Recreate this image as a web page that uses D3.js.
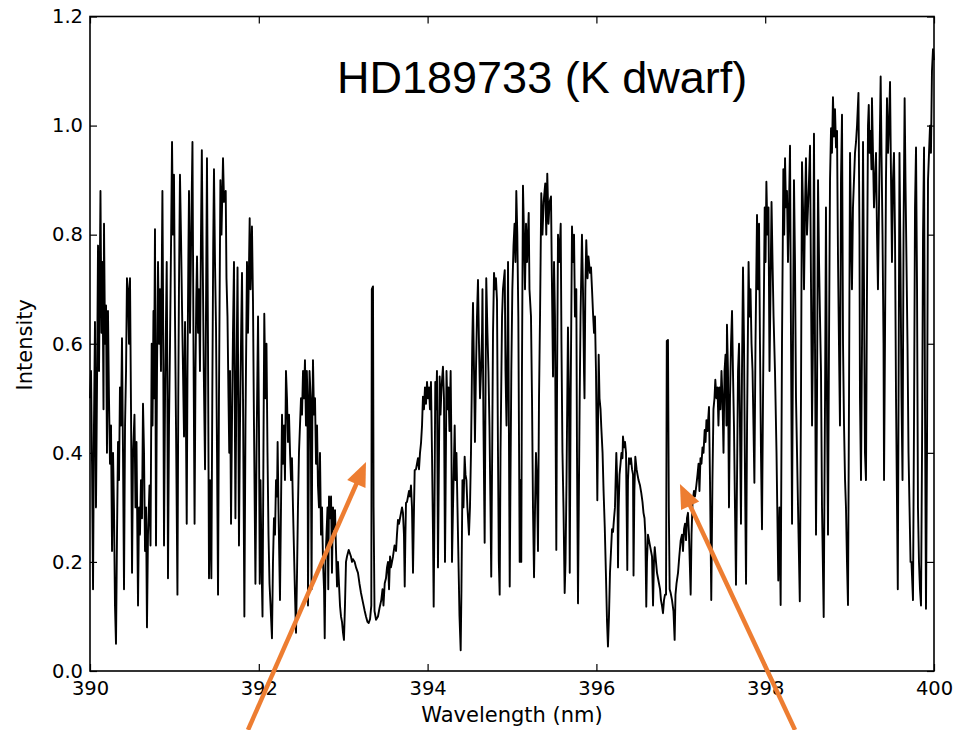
<!DOCTYPE html>
<html lang="en">
<head>
<meta charset="UTF-8">
<title>HD189733 (K dwarf)</title>
<script src="https://d3js.org/d3.v7.min.js"></script>
<style>
  body { margin: 0; background: #fff; }
</style>
</head>
<body>
<div id="chart"></div>
<script>
// spectrum: [wavelength (nm), intensity]
var spectrum = [
  [390.000,0.50],[390.012,0.55],[390.024,0.38],[390.036,0.15],[390.047,0.45],[390.059,0.64],[390.071,0.30],[390.083,0.52],
  [390.095,0.78],[390.107,0.55],[390.124,0.88],[390.136,0.62],[390.148,0.75],[390.160,0.48],[390.166,0.82],[390.178,0.60],
  [390.190,0.67],[390.201,0.40],[390.213,0.66],[390.225,0.50],[390.237,0.38],[390.249,0.45],[390.261,0.22],[390.273,0.40],
  [390.284,0.30],[390.296,0.12],[390.308,0.05],[390.320,0.25],[390.332,0.42],[390.344,0.35],[390.355,0.52],[390.367,0.45],
  [390.379,0.61],[390.391,0.40],[390.403,0.15],[390.415,0.45],[390.427,0.55],[390.438,0.72],[390.450,0.70],[390.462,0.60],
  [390.474,0.72],[390.486,0.48],[390.498,0.18],[390.510,0.40],[390.527,0.47],[390.539,0.30],[390.551,0.42],[390.569,0.12],
  [390.581,0.30],[390.592,0.25],[390.604,0.35],[390.616,0.28],[390.628,0.49],[390.640,0.40],[390.652,0.22],[390.664,0.30],
  [390.675,0.08],[390.687,0.25],[390.705,0.34],[390.717,0.23],[390.731,0.60],[390.741,0.45],[390.752,0.66],[390.758,0.50],
  [390.770,0.81],[390.782,0.23],[390.794,0.55],[390.806,0.75],[390.818,0.60],[390.829,0.70],[390.841,0.55],[390.858,0.88],
  [390.865,0.70],[390.877,0.23],[390.889,0.50],[390.909,0.75],[390.916,0.55],[390.924,0.17],[390.936,0.45],[390.948,0.60],
  [390.960,0.78],[390.972,0.97],[390.983,0.80],[390.995,0.91],[391.007,0.65],[391.019,0.45],[391.036,0.14],[391.046,0.50],
  [391.054,0.70],[391.066,0.91],[391.078,0.80],[391.090,0.67],[391.102,0.55],[391.114,0.43],[391.126,0.64],[391.137,0.45],
  [391.146,0.27],[391.155,0.55],[391.165,0.75],[391.173,0.88],[391.185,0.62],[391.197,0.78],[391.214,0.97],[391.226,0.60],
  [391.239,0.27],[391.250,0.55],[391.259,0.68],[391.268,0.76],[391.280,0.62],[391.291,0.70],[391.303,0.55],[391.315,0.80],
  [391.325,0.955],[391.336,0.75],[391.348,0.55],[391.363,0.37],[391.374,0.65],[391.386,0.94],[391.398,0.60],[391.410,0.17],
  [391.422,0.35],[391.438,0.17],[391.449,0.50],[391.460,0.78],[391.469,0.92],[391.481,0.75],[391.493,0.63],[391.505,0.40],
  [391.517,0.14],[391.528,0.50],[391.545,0.90],[391.558,0.80],[391.576,0.94],[391.588,0.86],[391.608,0.88],[391.617,0.72],
  [391.629,0.65],[391.641,0.50],[391.650,0.40],[391.659,0.55],[391.671,0.27],[391.682,0.45],[391.694,0.62],[391.706,0.75],
  [391.723,0.28],[391.736,0.55],[391.748,0.74],[391.757,0.50],[391.765,0.23],[391.777,0.45],[391.789,0.60],[391.801,0.73],
  [391.813,0.50],[391.829,0.10],[391.842,0.45],[391.860,0.75],[391.872,0.62],[391.892,0.83],[391.902,0.70],[391.919,0.815],
  [391.931,0.68],[391.943,0.45],[391.960,0.16],[391.973,0.40],[391.991,0.65],[392.002,0.45],[392.011,0.16],[392.020,0.35],
  [392.032,0.20],[392.044,0.10],[392.055,0.40],[392.065,0.655],[392.079,0.50],[392.091,0.60],[392.103,0.40],[392.115,0.25],
  [392.127,0.16],[392.139,0.12],[392.156,0.06],[392.168,0.20],[392.180,0.28],[392.192,0.25],[392.204,0.35],[392.216,0.32],
  [392.223,0.42],[392.233,0.30],[392.251,0.13],[392.263,0.30],[392.275,0.47],[392.287,0.38],[392.299,0.45],[392.310,0.35],
  [392.322,0.55],[392.334,0.50],[392.346,0.42],[392.358,0.47],[392.370,0.40],[392.382,0.35],[392.393,0.39],[392.405,0.30],
  [392.417,0.22],[392.429,0.14],[392.441,0.07],[392.453,0.18],[392.464,0.30],[392.476,0.40],[392.488,0.45],[392.500,0.50],
  [392.512,0.47],[392.524,0.55],[392.536,0.50],[392.547,0.57],[392.559,0.45],[392.569,0.55],[392.577,0.50],[392.583,0.12],
  [392.593,0.40],[392.601,0.55],[392.615,0.50],[392.625,0.15],[392.634,0.45],[392.642,0.57],[392.654,0.47],[392.666,0.50],
  [392.678,0.38],[392.690,0.45],[392.701,0.34],[392.713,0.30],[392.725,0.40],[392.737,0.25],[392.749,0.30],[392.761,0.20],
  [392.773,0.15],[392.781,0.06],[392.790,0.20],[392.802,0.25],[392.814,0.30],[392.823,0.15],[392.832,0.32],[392.844,0.28],
  [392.856,0.32],[392.867,0.18],[392.879,0.30],[392.891,0.26],[392.903,0.295],[392.915,0.22],[392.927,0.155],[392.938,0.20],
  [392.950,0.16],[392.962,0.12],[392.974,0.10],[392.986,0.09],[392.998,0.07],[393.009,0.057],[393.021,0.12],[393.033,0.20],
  [393.045,0.21],[393.065,0.222],[393.081,0.215],[393.092,0.21],[393.104,0.20],[393.116,0.205],[393.136,0.20],[393.152,0.19],
  [393.175,0.18],[393.193,0.16],[393.211,0.143],[393.235,0.125],[393.255,0.11],[393.270,0.10],[393.288,0.09],[393.302,0.088],
  [393.318,0.095],[393.333,0.12],[393.339,0.70],[393.353,0.705],[393.360,0.30],[393.371,0.11],[393.389,0.094],[393.412,0.10],
  [393.430,0.115],[393.451,0.13],[393.466,0.15],[393.477,0.12],[393.492,0.161],[393.507,0.17],[393.519,0.19],[393.531,0.20],
  [393.543,0.15],[393.555,0.21],[393.566,0.19],[393.590,0.21],[393.608,0.23],[393.626,0.22],[393.637,0.25],[393.649,0.277],
  [393.661,0.27],[393.673,0.28],[393.685,0.29],[393.697,0.30],[393.708,0.29],[393.720,0.25],[393.729,0.155],[393.737,0.25],
  [393.744,0.308],[393.756,0.31],[393.768,0.32],[393.780,0.33],[393.791,0.32],[393.803,0.34],[393.815,0.30],[393.827,0.18],
  [393.839,0.30],[393.847,0.368],[393.863,0.37],[393.874,0.38],[393.886,0.39],[393.898,0.37],[393.910,0.40],[393.922,0.418],
  [393.934,0.45],[393.945,0.503],[393.957,0.48],[393.969,0.52],[393.981,0.49],[393.993,0.53],[394.005,0.50],[394.017,0.52],
  [394.028,0.48],[394.040,0.53],[394.052,0.40],[394.064,0.25],[394.072,0.118],[394.082,0.30],[394.091,0.53],[394.100,0.48],
  [394.111,0.55],[394.123,0.19],[394.135,0.40],[394.143,0.54],[394.153,0.47],[394.165,0.52],[394.182,0.558],[394.194,0.50],
  [394.206,0.20],[394.212,0.30],[394.224,0.55],[394.236,0.48],[394.247,0.52],[394.259,0.44],[394.273,0.55],[394.283,0.40],
  [394.289,0.20],[394.301,0.30],[394.321,0.45],[394.330,0.35],[394.342,0.40],[394.354,0.30],[394.366,0.20],[394.378,0.10],
  [394.392,0.038],[394.401,0.15],[394.413,0.35],[394.425,0.30],[394.439,0.393],[394.449,0.36],[394.460,0.35],[394.472,0.30],
  [394.490,0.25],[394.502,0.30],[394.514,0.40],[394.522,0.50],[394.529,0.60],[394.538,0.675],[394.550,0.55],[394.561,0.42],
  [394.573,0.55],[394.585,0.65],[394.597,0.717],[394.609,0.60],[394.621,0.50],[394.633,0.55],[394.645,0.62],[394.650,0.70],
  [394.662,0.45],[394.676,0.235],[394.686,0.50],[394.695,0.72],[394.709,0.62],[394.721,0.55],[394.733,0.45],[394.745,0.30],
  [394.754,0.173],[394.765,0.40],[394.775,0.62],[394.787,0.73],[394.799,0.70],[394.810,0.72],[394.822,0.68],[394.834,0.40],
  [394.844,0.20],[394.854,0.14],[394.864,0.40],[394.882,0.65],[394.893,0.70],[394.914,0.735],[394.923,0.55],[394.935,0.45],
  [394.947,0.60],[394.953,0.75],[394.973,0.155],[394.982,0.35],[394.992,0.55],[395.004,0.70],[395.018,0.78],[395.030,0.82],
  [395.041,0.75],[395.051,0.88],[395.063,0.80],[395.075,0.65],[395.091,0.20],[395.101,0.35],[395.110,0.20],[395.118,0.55],
  [395.130,0.89],[395.142,0.80],[395.154,0.70],[395.166,0.82],[395.178,0.75],[395.198,0.84],[395.207,0.70],[395.225,0.65],
  [395.237,0.50],[395.249,0.295],[395.261,0.172],[395.273,0.30],[395.284,0.40],[395.296,0.35],[395.308,0.22],[395.320,0.50],
  [395.332,0.65],[395.347,0.876],[395.361,0.80],[395.375,0.86],[395.394,0.894],[395.406,0.80],[395.418,0.912],[395.432,0.82],
  [395.446,0.86],[395.462,0.87],[395.474,0.70],[395.486,0.54],[395.498,0.75],[395.509,0.65],[395.525,0.222],[395.533,0.50],
  [395.545,0.80],[395.560,0.75],[395.577,0.82],[395.586,0.60],[395.598,0.40],[395.610,0.30],[395.624,0.143],[395.634,0.20],
  [395.646,0.35],[395.663,0.63],[395.675,0.50],[395.684,0.18],[395.695,0.50],[395.711,0.815],[395.723,0.75],[395.735,0.80],
  [395.746,0.65],[395.762,0.70],[395.770,0.40],[395.782,0.124],[395.794,0.35],[395.802,0.50],[395.812,0.65],[395.829,0.80],
  [395.841,0.70],[395.853,0.55],[395.859,0.50],[395.869,0.70],[395.880,0.79],[395.895,0.72],[395.906,0.76],[395.924,0.73],
  [395.936,0.74],[395.948,0.70],[395.960,0.656],[395.972,0.62],[395.983,0.65],[395.995,0.55],[396.011,0.313],[396.027,0.58],
  [396.037,0.50],[396.049,0.48],[396.058,0.447],[396.073,0.40],[396.085,0.33],[396.099,0.264],[396.114,0.17],[396.126,0.09],
  [396.137,0.045],[396.149,0.10],[396.161,0.18],[396.173,0.22],[396.185,0.26],[396.197,0.255],[396.209,0.28],[396.220,0.30],
  [396.236,0.40],[396.250,0.33],[396.256,0.19],[396.264,0.30],[396.274,0.36],[396.286,0.38],[396.297,0.40],[396.309,0.39],
  [396.315,0.43],[396.327,0.41],[396.339,0.42],[396.351,0.40],[396.366,0.185],[396.374,0.35],[396.386,0.39],[396.398,0.38],
  [396.410,0.39],[396.422,0.37],[396.434,0.36],[396.440,0.175],[396.450,0.33],[396.461,0.393],[396.476,0.37],[396.487,0.36],
  [396.499,0.35],[396.517,0.34],[396.532,0.326],[396.546,0.31],[396.558,0.29],[396.570,0.28],[396.580,0.25],[396.591,0.118],
  [396.599,0.20],[396.611,0.25],[396.623,0.24],[396.635,0.23],[396.647,0.22],[396.659,0.21],[396.671,0.12],[396.682,0.20],
  [396.691,0.227],[396.706,0.20],[396.718,0.18],[396.730,0.17],[396.742,0.16],[396.754,0.15],[396.765,0.13],[396.777,0.12],
  [396.789,0.106],[396.801,0.13],[396.813,0.14],[396.825,0.14],[396.834,0.605],[396.848,0.607],[396.858,0.30],[396.868,0.15],
  [396.880,0.143],[396.896,0.13],[396.913,0.11],[396.927,0.057],[396.937,0.14],[396.949,0.16],[396.967,0.18],[396.982,0.21],
  [396.999,0.24],[397.014,0.25],[397.026,0.22],[397.038,0.26],[397.050,0.27],[397.062,0.24],[397.073,0.28],[397.085,0.29],
  [397.097,0.25],[397.117,0.14],[397.127,0.25],[397.139,0.31],[397.156,0.33],[397.168,0.32],[397.184,0.34],[397.198,0.36],
  [397.210,0.38],[397.221,0.33],[397.233,0.39],[397.245,0.38],[397.257,0.41],[397.269,0.40],[397.283,0.442],[397.293,0.42],
  [397.304,0.46],[397.316,0.44],[397.334,0.484],[397.346,0.35],[397.361,0.13],[397.375,0.35],[397.387,0.48],[397.399,0.50],
  [397.409,0.534],[397.423,0.50],[397.435,0.52],[397.446,0.45],[397.458,0.52],[397.470,0.48],[397.482,0.55],[397.494,0.50],
  [397.506,0.40],[397.518,0.55],[397.530,0.58],[397.541,0.45],[397.547,0.635],[397.559,0.55],[397.571,0.30],[397.583,0.50],
  [397.595,0.60],[397.607,0.66],[397.618,0.55],[397.630,0.45],[397.642,0.30],[397.654,0.158],[397.666,0.35],[397.678,0.55],
  [397.690,0.60],[397.701,0.45],[397.713,0.27],[397.725,0.55],[397.737,0.74],[397.749,0.60],[397.761,0.35],[397.773,0.16],
  [397.785,0.45],[397.803,0.75],[397.814,0.65],[397.826,0.70],[397.838,0.60],[397.850,0.55],[397.861,0.45],[397.872,0.345],
  [397.885,0.60],[397.903,0.836],[397.915,0.70],[397.927,0.82],[397.938,0.60],[397.950,0.40],[397.962,0.26],[397.974,0.50],
  [397.994,0.85],[398.004,0.75],[398.014,0.897],[398.027,0.80],[398.039,0.85],[398.051,0.55],[398.063,0.70],[398.075,0.86],
  [398.087,0.75],[398.099,0.65],[398.116,0.55],[398.134,0.40],[398.155,0.166],[398.169,0.30],[398.183,0.121],[398.199,0.60],
  [398.215,0.92],[398.225,0.80],[398.235,0.94],[398.246,0.85],[398.258,0.88],[398.270,0.75],[398.282,0.85],[398.294,0.963],
  [398.306,0.60],[398.318,0.27],[398.329,0.60],[398.341,0.90],[398.353,0.75],[398.365,0.50],[398.377,0.40],[398.389,0.30],
  [398.410,0.128],[398.424,0.50],[398.436,0.933],[398.448,0.85],[398.460,0.70],[398.472,0.85],[398.483,0.94],[398.495,0.80],
  [398.507,0.85],[398.519,0.90],[398.531,0.963],[398.543,0.70],[398.555,0.45],[398.566,0.60],[398.578,0.985],[398.590,0.60],
  [398.602,0.25],[398.614,0.50],[398.626,0.90],[398.638,0.75],[398.649,0.65],[398.661,0.55],[398.673,0.30],[398.693,0.099],
  [398.709,0.50],[398.720,0.85],[398.732,0.50],[398.744,0.25],[398.756,0.60],[398.768,0.90],[398.780,0.995],[398.791,0.95],
  [398.803,1.052],[398.815,0.98],[398.827,1.03],[398.839,0.96],[398.851,0.99],[398.863,0.75],[398.874,0.60],[398.886,0.45],
  [398.898,0.90],[398.910,1.02],[398.922,0.60],[398.934,0.45],[398.946,0.35],[398.957,0.30],[398.969,0.20],[398.981,0.121],
  [398.993,0.50],[399.005,0.95],[399.017,0.80],[399.028,0.70],[399.040,0.85],[399.052,0.90],[399.064,0.95],[399.076,0.97],
  [399.088,1.00],[399.105,1.06],[399.117,0.80],[399.123,0.50],[399.135,0.35],[399.147,0.60],[399.159,0.97],[399.171,0.70],
  [399.182,0.40],[399.194,0.35],[399.206,0.70],[399.218,1.00],[399.227,1.038],[399.236,0.95],[399.248,0.99],[399.259,0.92],
  [399.265,1.05],[399.277,0.95],[399.289,0.85],[399.301,0.90],[399.313,0.95],[399.325,0.80],[399.336,0.70],[399.348,0.85],
  [399.360,1.00],[399.368,1.09],[399.378,0.95],[399.390,0.80],[399.402,0.60],[399.408,0.35],[399.419,0.60],[399.431,0.90],
  [399.443,1.05],[399.455,0.95],[399.467,1.00],[399.479,1.08],[399.491,0.90],[399.502,0.75],[399.514,0.90],[399.526,0.95],
  [399.538,0.80],[399.550,0.50],[399.562,0.30],[399.571,0.15],[399.580,0.50],[399.591,0.95],[399.603,0.75],[399.615,0.50],
  [399.627,0.35],[399.639,0.80],[399.652,1.05],[399.662,0.90],[399.674,0.75],[399.686,0.60],[399.698,0.40],[399.710,0.30],
  [399.722,0.20],[399.733,0.20],[399.751,0.13],[399.763,0.45],[399.775,0.85],[399.787,0.96],[399.799,0.70],[399.810,0.30],
  [399.822,0.20],[399.834,0.15],[399.846,0.12],[399.858,0.40],[399.870,0.80],[399.882,0.96],[399.893,0.50],[399.905,0.114],
  [399.917,0.40],[399.929,0.90],[399.941,0.95],[399.953,1.00],[399.964,0.95],[399.976,1.10],[399.988,1.14],[400.000,1.12]
];

var xTicks = [390, 392, 394, 396, 398, 400];
var yTicks = [0.0, 0.2, 0.4, 0.6, 0.8, 1.0, 1.2];
var titleText = "HD189733 (K dwarf)";
var xLabel = "Wavelength (nm)";
var yLabel = "Intensity";

// orange arrows pointing at the two emission cores (tail sits below the axis)
var arrowTails = [[391.872, -0.108], [398.353, -0.108]];
var arrowTips  = [[393.270, 0.383], [396.990, 0.343]];

var width = 959,
    height = 730,
    margin = {top: 16.5, right: 25, bottom: 59, left: 90};

var x = d3.scaleLinear()
    .domain([390, 400])
    .range([margin.left, width - margin.right]);

var y = d3.scaleLinear()
    .domain([0, 1.2])
    .range([height - margin.bottom, margin.top]);

var svg = d3.select("#chart")
    .append("svg")
    .attr("width", width)
    .attr("height", height)
    .style("display", "block");

// spectrum line
svg.append("path")
    .datum(spectrum)
    .attr("fill", "none")
    .attr("stroke", "#000")
    .attr("stroke-width", 1.9)
    .attr("stroke-linejoin", "round")
    .attr("d", d3.line()
        .x(function(d) { return x(d[0]); })
        .y(function(d) { return y(d[1]); })
    );

// axes with inward ticks on all four sides
function styleAxis(g) {
    g.select(".domain").remove();
    g.selectAll(".tick line").attr("stroke", "#000").attr("stroke-width", 1.2);
    g.attr("font-family", "'DejaVu Sans', sans-serif").attr("font-size", 19.5);
    g.selectAll(".tick text").attr("fill", "#000");
}

svg.append("g")
    .attr("transform", "translate(0," + y(0) + ")")
    .call(d3.axisBottom(x).tickValues(xTicks).tickSize(-7).tickPadding(10).tickFormat(d3.format("d")))
    .call(styleAxis);

svg.append("g")
    .attr("transform", "translate(0," + y(1.2) + ")")
    .call(d3.axisTop(x).tickValues(xTicks).tickSize(-7).tickFormat(""))
    .call(styleAxis);

svg.append("g")
    .attr("transform", "translate(" + x(390) + ",0)")
    .call(d3.axisLeft(y).tickValues(yTicks).tickSize(-7).tickPadding(7).tickFormat(d3.format(".1f")))
    .call(styleAxis);

svg.append("g")
    .attr("transform", "translate(" + x(400) + ",0)")
    .call(d3.axisRight(y).tickValues(yTicks).tickSize(-7).tickFormat(""))
    .call(styleAxis);

// frame
svg.append("rect")
    .attr("x", x(390))
    .attr("y", y(1.2))
    .attr("width", x(400) - x(390))
    .attr("height", y(0) - y(1.2))
    .attr("fill", "none")
    .attr("stroke", "#000")
    .attr("stroke-width", 1.6);

// axis labels
svg.append("text")
    .attr("x", (x(390) + x(400)) / 2)
    .attr("y", 722)
    .attr("text-anchor", "middle")
    .attr("font-family", "'DejaVu Sans', sans-serif")
    .attr("font-size", 21)
    .text(xLabel);

svg.append("text")
    .attr("transform", "translate(32," + ((y(0) + y(1.2)) / 2 + 1) + ") rotate(-90)")
    .attr("text-anchor", "middle")
    .attr("font-family", "'DejaVu Sans', sans-serif")
    .attr("font-size", 21)
    .text(yLabel);

// title inside the plot
svg.append("text")
    .attr("x", 337)
    .attr("y", 93)
    .attr("font-family", "'Liberation Sans', Arial, sans-serif")
    .attr("font-size", 45)
    .attr("fill", "#000")
    .text(titleText);

// arrows
var arrowColor = "#ED7D31",
    headLen = 24,
    headHalf = 10;

arrowTips.forEach(function(tip, i) {
    var tx = x(tip[0]), ty = y(tip[1]),
        sx = x(arrowTails[i][0]), sy = y(arrowTails[i][1]);
    var dx = tx - sx, dy = ty - sy,
        len = Math.sqrt(dx * dx + dy * dy),
        ux = dx / len, uy = dy / len;
    var bx = tx - ux * headLen, by = ty - uy * headLen;

    svg.append("line")
        .attr("x1", sx).attr("y1", sy)
        .attr("x2", bx + ux * 2).attr("y2", by + uy * 2)
        .attr("stroke", arrowColor)
        .attr("stroke-width", 4.5);

    svg.append("polygon")
        .attr("points", [
            [tx, ty],
            [bx - uy * headHalf, by + ux * headHalf],
            [bx + uy * headHalf, by - ux * headHalf]
        ].map(function(p) { return p.join(","); }).join(" "))
        .attr("fill", arrowColor);
});
</script>
</body>
</html>
